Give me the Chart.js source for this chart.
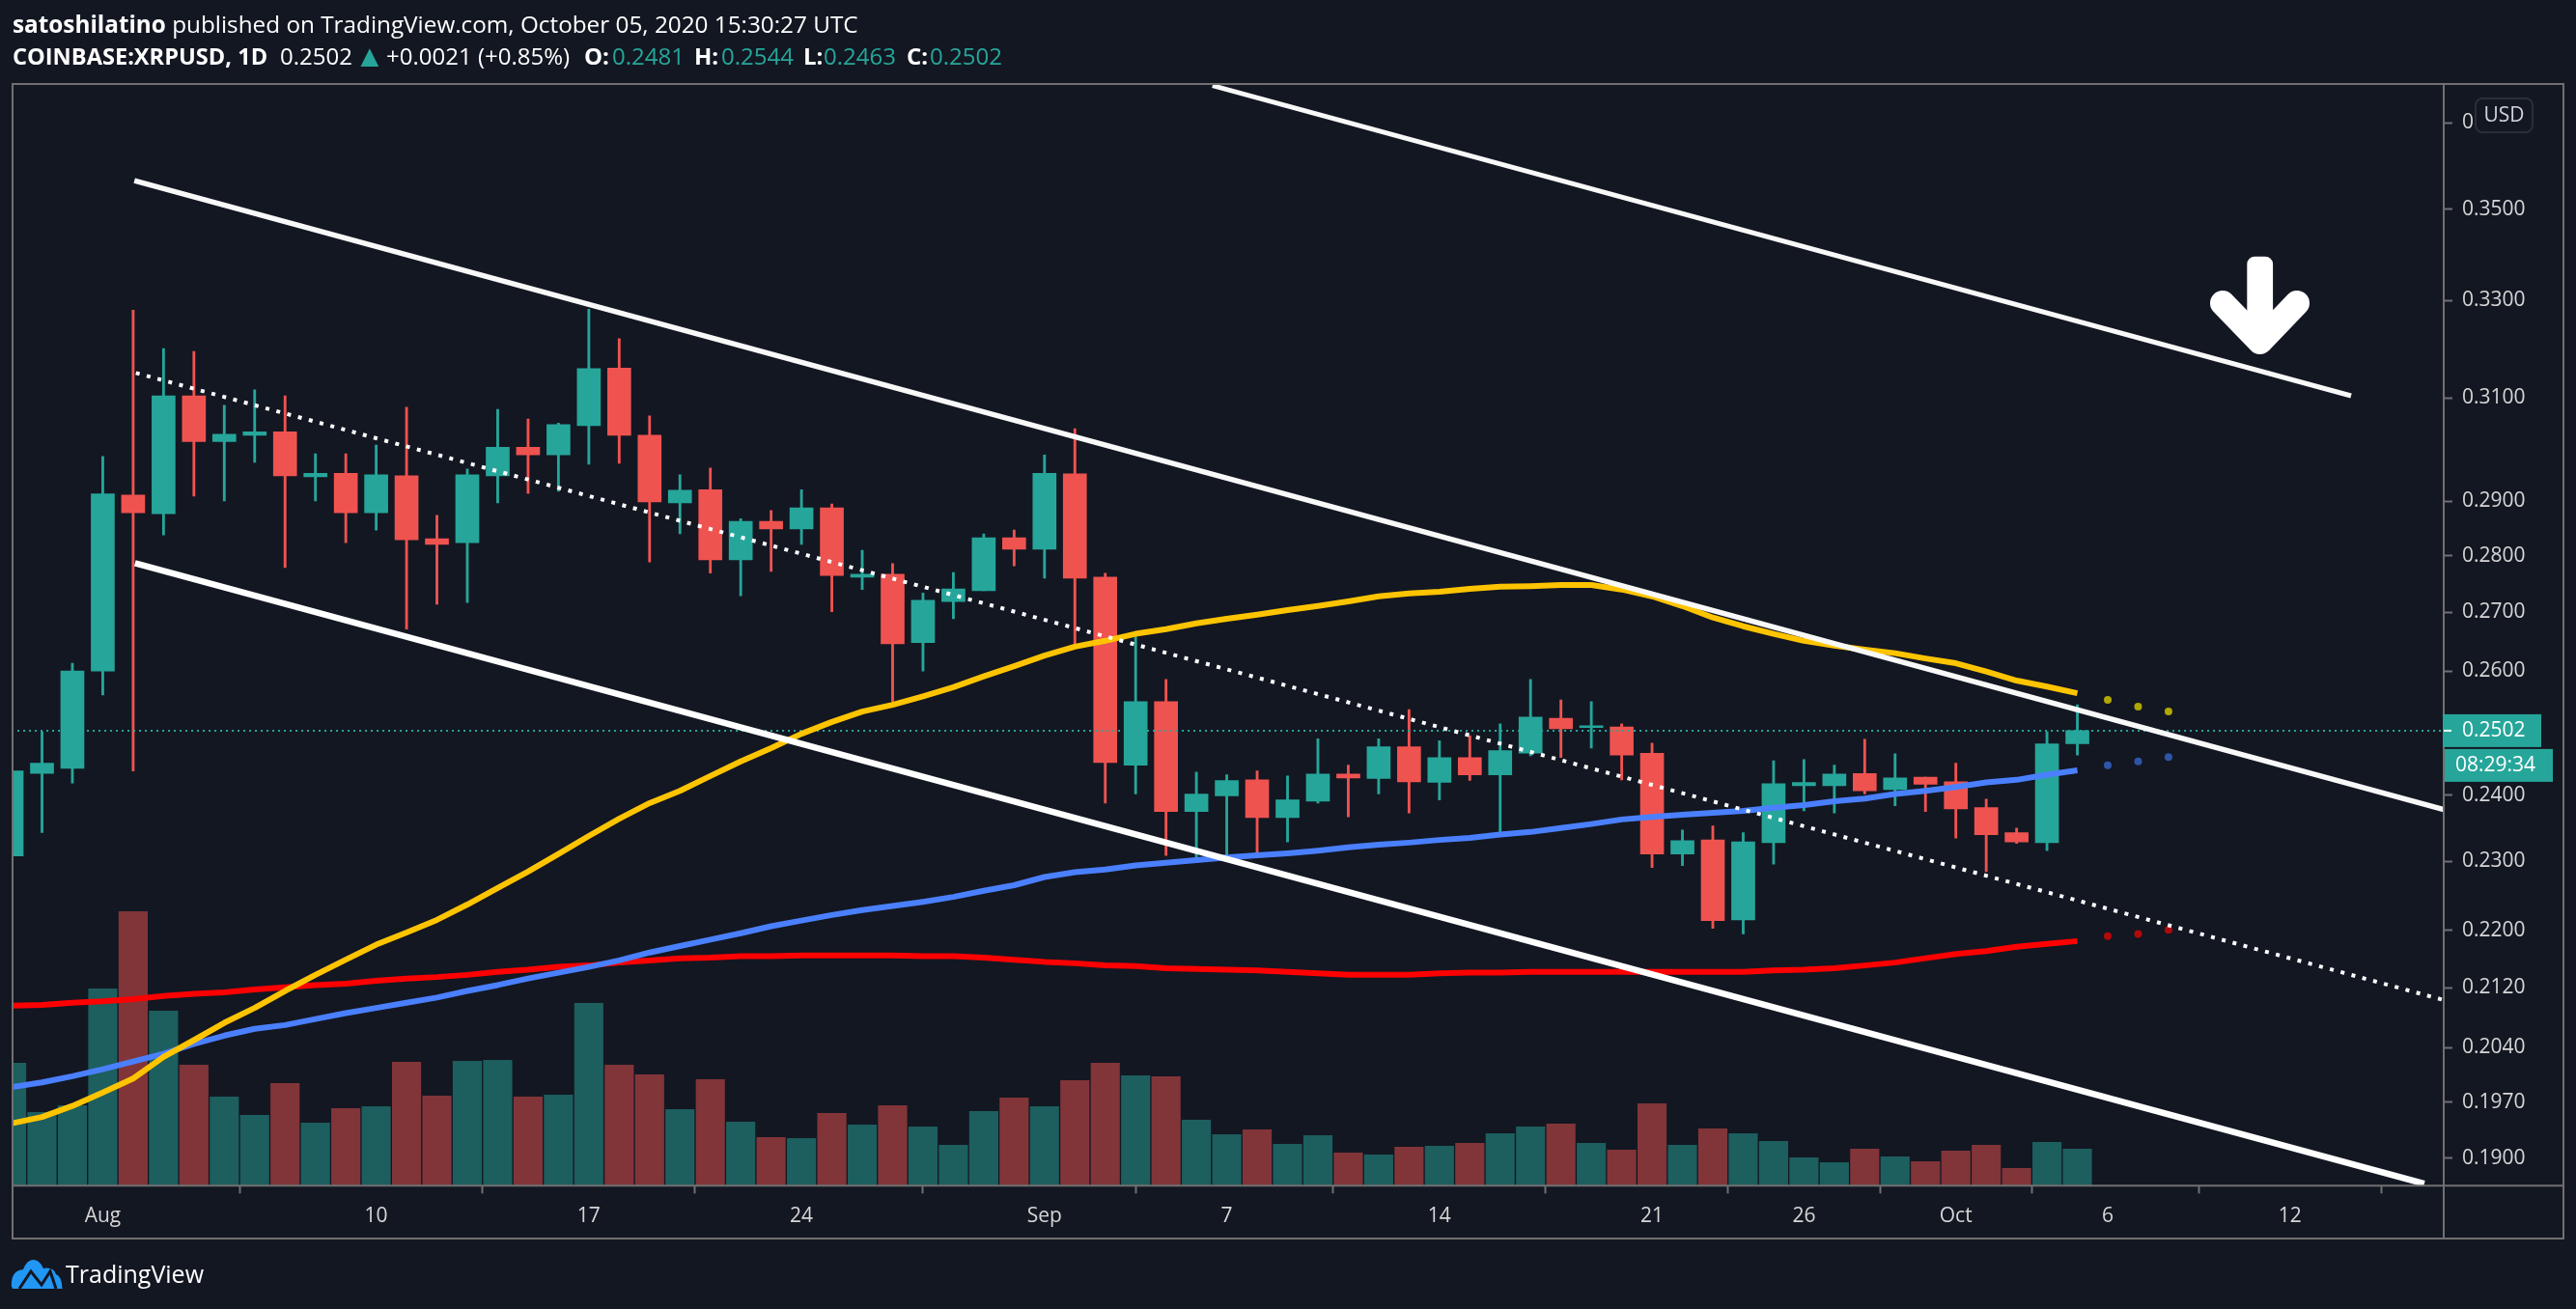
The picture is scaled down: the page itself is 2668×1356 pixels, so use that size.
<!DOCTYPE html>
<html lang="en">
<head>
<meta charset="UTF-8">
<title>COINBASE:XRPUSD, 1D</title>
<script src="https://cdn.jsdelivr.net/npm/chart.js"></script>
<style>
    html, body { margin: 0; padding: 0; background: #131722; }
    body { width: 2668px; height: 1356px; position: relative; overflow: hidden; font-family: "Open Sans", sans-serif; }
    canvas { position: absolute; left: 0; top: 0; }
    .txt { position: absolute; white-space: nowrap; color: #fff; font-size: 24px; line-height: 30px; }
    .b { font-weight: 700; }
    .teal { color: #26a69a; }
    #usd { position: absolute; left: 2563px; top: 101px; width: 57px; height: 33px; border: 2px solid #2a2e39; border-radius: 8px;
           color: #d1d4dc; font-size: 21px; line-height: 31px; text-align: center; background: #131722; box-sizing: content-box; }
    svg { position: absolute; left: 0; top: 0; }
</style>
</head>
<body>
<canvas id="chart" width="2668" height="1356"></canvas>

<div class="txt" style="left:13px;top:10px;font-size:24.3px"><span class="b">satoshilatino</span> published on TradingView.com, October 05, 2020 15:30:27 UTC</div>
<div class="txt b" style="left:13px;top:43px;font-size:23.6px">COINBASE:XRPUSD, 1D</div>
<div class="txt" style="left:290px;top:43px">0.2502</div>
<div class="txt teal" style="left:367px;top:42px;font-size:32px">▲</div>
<div class="txt" style="left:400px;top:43px">+0.0021 (+0.85%)</div>
<div class="txt b" style="left:605px;top:43px">O:</div><div class="txt teal" style="left:634px;top:43px">0.2481</div>
<div class="txt b" style="left:719px;top:43px">H:</div><div class="txt teal" style="left:747px;top:43px">0.2544</div>
<div class="txt b" style="left:832px;top:43px">L:</div><div class="txt teal" style="left:853px;top:43px">0.2463</div>
<div class="txt b" style="left:939px;top:43px">C:</div><div class="txt teal" style="left:963px;top:43px">0.2502</div>

<div id="usd">USD</div>

<svg width="2668" height="1356">
    <!-- big arrow -->
    <rect x="2327.3" y="265.7" width="26.8" height="90" rx="8" fill="#fff"/>
    <path d="M2302 314 L2340.7 354 L2379 314" fill="none" stroke="#fff" stroke-width="26" stroke-linecap="round" stroke-linejoin="round"/>
    <!-- logo -->
    <path d="M12 1328 Q13 1316 24 1315 Q28 1305 34 1305 Q41 1305 45 1314 Q55 1312 58 1320 Q64 1322 64.5 1335 L13 1335 Q11 1332 12 1328 Z" fill="#2196f3"/>
    <path d="M20 1335 L32 1317 L43 1331 L52 1317 L58 1335" fill="none" stroke="#131722" stroke-width="3"/>
</svg>
<div class="txt" style="left:68px;top:1304px;font-size:25px">TradingView</div>

<script>
    // x values are days counted from Aug 1 2020
    const days = [-3,-2,-1,0,1,2,3,4,5,6,7,8,9,10,11,12,13,14,15,16,17,18,19,20,21,22,23,24,25,26,27,28,29,30,31,32,33,34,35,36,37,38,39,40,41,42,43,44,45,46,47,48,49,50,51,52,53,54,55,56,57,58,59,60,61,62,63,64,65];

    const opens = [.2308,.2434,.2442,.2600,.2912,.2877,.3104,.3014,.3026,.3033,.2946,.2953,.2879,.2948,.2831,.2824,.2948,.3003,.2988,.3045,.3160,.3026,.2897,.2922,.2793,.2863,.2849,.2888,.2762,.2767,.2648,.2719,.2738,.2833,.2812,.2952,.2762,.2447,.2549,.2375,.2399,.2424,.2366,.2391,.2433,.2426,.2476,.2420,.2459,.2432,.2466,.2522,.2507,.2508,.2466,.2311,.2332,.2215,.2328,.2415,.2415,.2434,.2409,.2428,.2421,.2381,.2343,.2328,.2481];
    const highs = [.2442,.2500,.2613,.2985,.3280,.3200,.3194,.3085,.3116,.3104,.2990,.2990,.3007,.3081,.2874,.2961,.3077,.3058,.3050,.3282,.3220,.3064,.2950,.2963,.2868,.2883,.2922,.2895,.2810,.2786,.2734,.2770,.2840,.2847,.2988,.3039,.2769,.2658,.2586,.2436,.2432,.2438,.2430,.2489,.2447,.2489,.2536,.2486,.2494,.2513,.2586,.2552,.2549,.2513,.2482,.2347,.2353,.2343,.2454,.2456,.2447,.2488,.2465,.2428,.2450,.2394,.2350,.2500,.2544];
    const lows = [.2304,.2343,.2419,.2560,.2438,.2838,.2910,.2901,.2974,.2779,.2901,.2824,.2847,.2671,.2714,.2717,.2897,.2915,.2919,.2970,.2972,.2789,.2840,.2769,.2729,.2772,.2821,.2701,.2740,.2549,.2600,.2689,.2738,.2782,.2760,.2641,.2388,.2402,.2309,.2306,.2301,.2311,.2329,.2388,.2367,.2402,.2373,.2393,.2423,.2344,.2462,.2459,.2474,.2424,.2291,.2294,.2203,.2195,.2296,.2376,.2373,.2402,.2384,.2375,.2335,.2285,.2327,.2316,.2463];
    const closes = [.2438,.2450,.2600,.2914,.2879,.3104,.3014,.3028,.3033,.2948,.2953,.2879,.2950,.2829,.2821,.2950,.3003,.2988,.3047,.3159,.3026,.2899,.2921,.2793,.2863,.2849,.2888,.2765,.2767,.2646,.2721,.2741,.2833,.2812,.2953,.2760,.2451,.2549,.2375,.2402,.2423,.2366,.2393,.2433,.2427,.2476,.2421,.2459,.2432,.2470,.2524,.2505,.2510,.2463,.2311,.2331,.2214,.2329,.2418,.2420,.2433,.2407,.2427,.2417,.2379,.2340,.2329,.2481,.2502];
    const volumes = [127,76,83,204,284,181,125,92,73,106,65,80,82,128,93,129,130,92,94,189,125,115,79,110,66,50,49,75,63,83,61,42,77,91,82,109,127,114,113,68,53,58,43,52,34,32,40,41,44,54,61,64,44,37,85,42,59,54,46,29,24,38,30,25,36,42,18,45,38];

    const ma50 = [.1943,.1951,.1965,.1982,.2000,.2028,.2050,.2073,.2093,.2116,.2138,.2159,.2180,.2197,.2215,.2237,.2261,.2285,.2311,.2338,.2364,.2388,.2407,.2430,.2453,.2474,.2497,.2516,.2533,.2544,.2558,.2573,.2591,.2608,.2626,.2641,.2651,.2663,.2671,.2681,.2689,.2696,.2704,.2711,.2719,.2728,.2733,.2736,.2741,.2745,.2746,.2748,.2748,.2740,.2728,.2711,.2691,.2676,.2663,.2651,.2643,.2636,.2630,.2621,.2613,.2599,.2584,.2574,.2563];
    const ma100 = [.1989,.1995,.2003,.2012,.2022,.2032,.2045,.2056,.2065,.2070,.2078,.2086,.2093,.2100,.2107,.2116,.2124,.2133,.2141,.2149,.2158,.2169,.2178,.2187,.2196,.2206,.2214,.2222,.2229,.2235,.2241,.2248,.2257,.2265,.2277,.2284,.2288,.2294,.2298,.2302,.2306,.2309,.2312,.2316,.2321,.2325,.2328,.2332,.2335,.2340,.2344,.2350,.2356,.2363,.2367,.2370,.2373,.2376,.2381,.2385,.2391,.2395,.2402,.2407,.2413,.2420,.2424,.2432,.2439];
    const ma200 = [.2096,.2097,.2100,.2102,.2105,.2109,.2112,.2114,.2118,.2121,.2124,.2126,.2130,.2133,.2135,.2138,.2142,.2145,.2149,.2151,.2155,.2158,.2161,.2162,.2164,.2164,.2165,.2165,.2165,.2165,.2164,.2164,.2162,.2159,.2156,.2154,.2151,.2150,.2147,.2146,.2145,.2144,.2142,.2140,.2138,.2138,.2138,.2140,.2141,.2141,.2142,.2142,.2142,.2142,.2142,.2142,.2142,.2142,.2144,.2145,.2147,.2151,.2155,.2161,.2167,.2171,.2177,.2181,.2185];

    // offset dots to the right of the last bar
    const dotDays = [66, 67, 68];
    const dots50 = [.2552, .2541, .2533];
    const dots100 = [.2447, .2453, .2460];
    const dots200 = [.2192, .2195, .2201];

    // drawn trend lines, [start, end]
    const topLineDays = [36.53, 74.01];
    const topLinePrices = [.3790, .3104];
    const upperLineDays = [1.04, 77.06];
    const upperLinePrices = [.3565, .2378];
    const midLineDays = [1.09, 77.03];
    const midLinePrices = [.3150, .2104];
    const lowerLineDays = [1.06, 76.42];
    const lowerLinePrices = [.2787, .1869];

    const lastPrice = 0.2502;
    const countdown = '08:29:34';

    const priceTicks = [.19, .197, .204, .212, .22, .23, .24, .26, .27, .28, .29, .31, .33, .35, .37];
    const priceLabels = ['0.1900', '0.1970', '0.2040', '0.2120', '0.2200', '0.2300', '0.2400', '0.2600', '0.2700', '0.2800', '0.2900', '0.3100', '0.3300', '0.3500', '0'];
    const dayTicks = [0, 9, 16, 23, 31, 37, 44, 51, 56, 61, 66, 72];
    const dayLabels = ['Aug', '10', '17', '24', 'Sep', '7', '14', '21', '26', 'Oct', '6', '12'];

    const UP = '#26a69a', DOWN = '#ef5350';
    const UP_VOL = '#1d5e5e', DOWN_VOL = '#813539';
    const FRAME = '#707070';
    const LABEL = '#d6d6d6';
    const FONT = '"Open Sans", sans-serif';

    const isUp = i => closes[i] >= opens[i];
    const pairs = (xs, ys) => xs.map((x, i) => ({ x: x, y: ys[i] }));

    function lineSet(xs, ys, color, width, order, dash) {
        return {
            type: 'line', data: pairs(xs, ys), yAxisID: 'y', order: order,
            borderColor: color, borderWidth: width, borderDash: dash || [],
            pointRadius: 0, tension: 0, borderCapStyle: 'butt', borderJoinStyle: 'round'
        };
    }

    function dotSet(ys, color, order) {
        return {
            type: 'line', data: pairs(dotDays, ys), yAxisID: 'y', order: order, showLine: false,
            pointRadius: 4, pointBackgroundColor: color, pointBorderWidth: 0
        };
    }

    // frame, last price badge and countdown
    const overlay = {
        id: 'overlay',
        afterDraw(chart) {
            const { ctx, chartArea: a, scales } = chart;
            const bottom = 1283, right = 2655;
            ctx.save();
            ctx.strokeStyle = FRAME;
            ctx.lineWidth = 2;
            ctx.strokeRect(a.left, a.top, right - a.left, bottom - a.top);
            ctx.beginPath();
            ctx.moveTo(a.right, a.top); ctx.lineTo(a.right, bottom);
            ctx.moveTo(a.left, a.bottom); ctx.lineTo(right, a.bottom);
            ctx.stroke();

            const y = scales.y.getPixelForValue(lastPrice);
            ctx.fillStyle = UP;
            ctx.fillRect(a.right - 1, y - 17, 102, 34);
            ctx.fillRect(a.right + 1, y + 19, 112, 34);
            ctx.fillStyle = '#fff';
            ctx.fillRect(a.right, y - 1, 8, 2);
            ctx.font = '21px ' + FONT;
            ctx.textBaseline = 'middle';
            ctx.fillText(lastPrice.toFixed(4), a.right + 19, y);
            ctx.fillText(countdown, a.right + 12, y + 36);
            ctx.restore();
        }
    };

    new Chart(document.getElementById('chart').getContext('2d'), {
        type: 'bar',
        plugins: [overlay],
        data: {
            datasets: [
                {
                    data: pairs(days, volumes), yAxisID: 'vol', order: 20, grouped: false, barThickness: 29.5,
                    backgroundColor: days.map((d, i) => isUp(i) ? UP_VOL : DOWN_VOL)
                },
                {
                    data: days.map((d, i) => ({ x: d, y: [lows[i], highs[i]] })), yAxisID: 'y', order: 19, grouped: false, barThickness: 2.2,
                    backgroundColor: days.map((d, i) => isUp(i) ? UP : DOWN)
                },
                {
                    data: days.map((d, i) => ({ x: d, y: [opens[i], closes[i]] })), yAxisID: 'y', order: 18, grouped: false, barThickness: 24,
                    backgroundColor: days.map((d, i) => isUp(i) ? UP : DOWN)
                },
                lineSet([days[0], 77.06], [lastPrice, lastPrice], UP, 2, 17, [2, 4]),
                lineSet(days, ma200, '#ff0000', 6, 12),
                lineSet(days, ma100, '#4a80ff', 6, 11),
                lineSet(days, ma50, '#ffc400', 6, 10),
                dotSet(dots200, '#b00a0a', 9),
                dotSet(dots100, '#2f55a8', 9),
                dotSet(dots50, '#b0a800', 9),
                lineSet(topLineDays, topLinePrices, '#f8f8f8', 5, 4),
                lineSet(upperLineDays, upperLinePrices, '#f8f8f8', 5.5, 3),
                lineSet(midLineDays, midLinePrices, '#ffffff', 4, 2, [4, 7.6]),
                lineSet(lowerLineDays, lowerLinePrices, '#ffffff', 6.5, 1)
            ]
        },
        options: {
            responsive: false,
            animation: false,
            layout: { padding: { left: 13, right: 13, top: 87, bottom: 73 } },
            plugins: { legend: { display: false }, tooltip: { enabled: false } },
            scales: {
                x: {
                    type: 'linear', offset: false, min: -2.97, max: 77.06,
                    afterBuildTicks: axis => { axis.ticks = dayTicks.map(v => ({ value: v })); },
                    afterFit: axis => { axis.height = 54.7; },
                    border: { display: false },
                    grid: { drawOnChartArea: false, tickLength: 8, tickColor: FRAME, tickWidth: 2 },
                    ticks: {
                        autoSkip: false, maxRotation: 0, padding: 11, color: LABEL, font: { family: FONT, size: 21 },
                        callback: (v, i) => dayLabels[i]
                    }
                },
                y: {
                    type: 'logarithmic', position: 'right', min: 0.18666, max: 0.3794,
                    afterBuildTicks: axis => { axis.ticks = priceTicks.map(v => ({ value: v })); },
                    afterFit: axis => { axis.width = 124; },
                    border: { display: false },
                    grid: { drawOnChartArea: false, tickLength: 9, tickColor: FRAME, tickWidth: 2 },
                    ticks: {
                        autoSkip: false, padding: 10, color: LABEL, font: { family: FONT, size: 21 },
                        callback: (v, i) => priceLabels[i]
                    }
                },
                vol: { type: 'linear', display: false, min: 0, max: 1141.3 }
            }
        }
    });
</script>
</body>
</html>
